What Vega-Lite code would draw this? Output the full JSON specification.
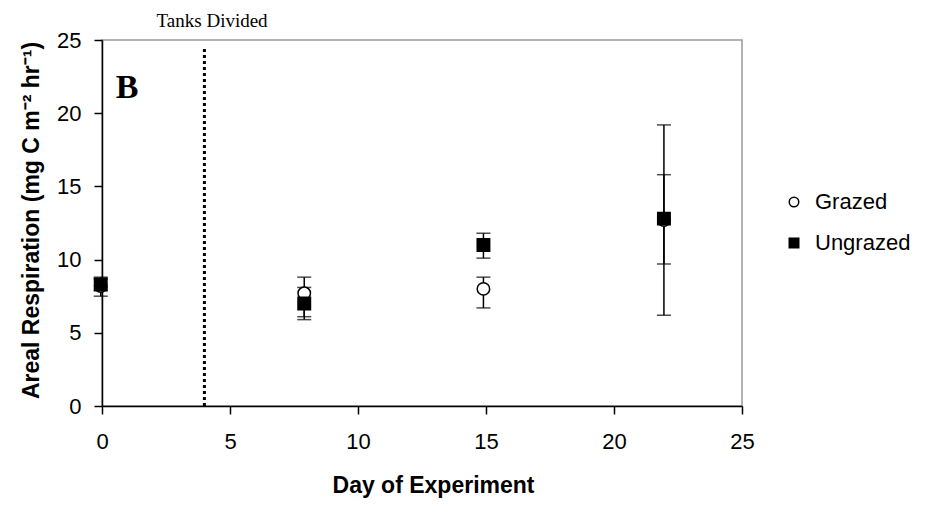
{
  "$schema": "https://vega.github.io/schema/vega-lite/v6.json",
  "width": 640,
  "height": 366,
  "autosize": {"type": "none"},
  "padding": {"left": 102, "top": 40, "right": 185, "bottom": 100},
  "background": "white",
  "config": {
    "font": "Liberation Sans",
    "view": {"stroke": "#999999", "strokeWidth": 1.5},
    "axis": {
      "domainColor": "black", "domainWidth": 1.5, "tickColor": "black", "tickWidth": 1.5,
      "tickSize": 8, "labelColor": "black", "labelFontSize": 22, "titleFontSize": 23,
      "titleFontWeight": "bold", "titleColor": "black", "grid": false, "labelFlush": false
    }
  },
  "datasets": {
    "pts": [
      {"series": "Grazed", "day": -0.05, "mean": 8.2, "lo": 7.5, "hi": 8.8},
      {"series": "Grazed", "day": 7.9, "mean": 7.7, "lo": 6.1, "hi": 8.8},
      {"series": "Grazed", "day": 14.9, "mean": 8.0, "lo": 6.7, "hi": 8.8},
      {"series": "Grazed", "day": 21.95, "mean": 12.7, "lo": 6.2, "hi": 19.2},
      {"series": "Ungrazed", "day": -0.05, "mean": 8.3, "lo": 7.9, "hi": 8.7},
      {"series": "Ungrazed", "day": 7.9, "mean": 7.0, "lo": 5.9, "hi": 8.1},
      {"series": "Ungrazed", "day": 14.9, "mean": 11.0, "lo": 10.1, "hi": 11.8},
      {"series": "Ungrazed", "day": 21.95, "mean": 12.8, "lo": 9.7, "hi": 15.8}
    ]
  },
  "layer": [
    {
      "data": {"values": [{"x": 4, "y": 0, "y2": 24.5}]},
      "mark": {"type": "rule", "color": "black", "strokeWidth": 3, "strokeDash": [3, 3]},
      "encoding": {
        "x": {"field": "x", "type": "quantitative"},
        "y": {"field": "y", "type": "quantitative"},
        "y2": {"field": "y2"}
      }
    },
    {
      "data": {"name": "pts"},
      "mark": {"type": "rule", "color": "black", "strokeWidth": 1.5},
      "encoding": {
        "x": {"field": "day", "type": "quantitative"},
        "y": {"field": "lo", "type": "quantitative"},
        "y2": {"field": "hi"}
      }
    },
    {
      "data": {"name": "pts"},
      "mark": {"type": "tick", "orient": "horizontal", "color": "black", "size": 14, "thickness": 1.5},
      "encoding": {
        "x": {"field": "day", "type": "quantitative"},
        "y": {"field": "lo", "type": "quantitative"}
      }
    },
    {
      "data": {"name": "pts"},
      "mark": {"type": "tick", "orient": "horizontal", "color": "black", "size": 14, "thickness": 1.5},
      "encoding": {
        "x": {"field": "day", "type": "quantitative"},
        "y": {"field": "hi", "type": "quantitative"}
      }
    },
    {
      "data": {"name": "pts"},
      "mark": {"type": "point", "filled": true, "stroke": "black", "strokeWidth": 1.5, "opacity": 1, "size": 155},
      "encoding": {
        "x": {
          "field": "day", "type": "quantitative",
          "scale": {"domain": [0, 25], "nice": false, "zero": false},
          "axis": {"values": [0, 5, 10, 15, 20, 25], "labelPadding": 17, "title": "Day of Experiment", "titleX": 331, "titleY": 86, "titleBaseline": "alphabetic", "titleAlign": "center"}
        },
        "y": {
          "field": "mean", "type": "quantitative",
          "scale": {"domain": [0, 25], "nice": false},
          "axis": {"values": [0, 5, 10, 15, 20, 25], "labelPadding": 13, "title": "Areal Respiration (mg C m⁻² hr⁻¹)", "titleX": -71, "titleY": 180, "titleAlign": "center", "titleBaseline": "middle", "titleAngle": -90}
        },
        "shape": {
          "field": "series", "type": "nominal",
          "scale": {"domain": ["Grazed", "Ungrazed"], "range": ["circle", "square"]},
          "legend": {
            "title": null, "orient": "none", "legendX": 681, "legendY": 151, "padding": 0,
            "labelFontSize": 22, "labelColor": "black", "symbolSize": 90, "symbolStrokeWidth": 1.5,
            "rowPadding": 19, "labelOffset": 10
          }
        },
        "fill": {
          "field": "series", "type": "nominal",
          "scale": {"domain": ["Grazed", "Ungrazed"], "range": ["white", "black"]}
        }
      }
    },
    {
      "data": {"values": [{"x": 0.98, "y": 21.7, "t": "B"}]},
      "mark": {"type": "text", "font": "Liberation Serif", "fontWeight": "bold", "fontSize": 34, "color": "black", "baseline": "middle", "align": "center"},
      "encoding": {
        "x": {"field": "x", "type": "quantitative"},
        "y": {"field": "y", "type": "quantitative"},
        "text": {"field": "t"}
      }
    },
    {
      "data": {"values": [{"x": 4.3, "y": 26.3, "t": "Tanks Divided"}]},
      "mark": {"type": "text", "font": "Liberation Serif", "fontSize": 19, "color": "black", "baseline": "middle", "align": "center"},
      "encoding": {
        "x": {"field": "x", "type": "quantitative"},
        "y": {"field": "y", "type": "quantitative"},
        "text": {"field": "t"}
      }
    }
  ]
}
